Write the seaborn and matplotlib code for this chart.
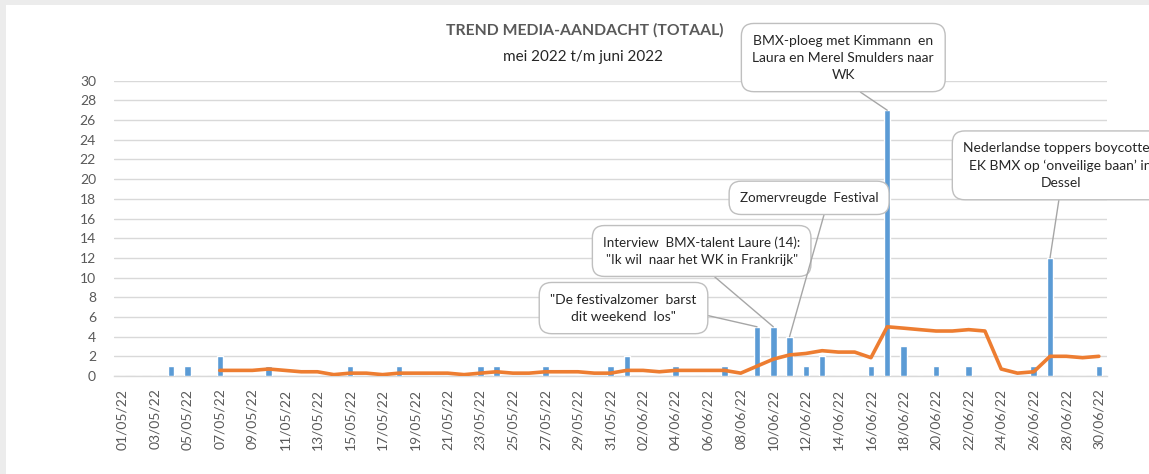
import numpy as np
import pandas as pd
import seaborn as sns
import matplotlib.pyplot as plt
from matplotlib.patches import Rectangle

# ------------------------------- data ----------------------------------#
dates = pd.date_range('2022-05-01', '2022-06-30').strftime('%d/%m/%y').tolist()

# daily number of media items (bars)
counts = [0, 0, 0, 1, 1, 0, 2, 0, 0, 1,
          0, 0, 0, 0, 1, 0, 0, 1, 0, 0,
          0, 0, 1, 1, 0, 0, 1, 0, 0, 0,
          1, 2, 0, 0, 1, 0, 0, 1, 0, 5,
          5, 4, 1, 2, 0, 0, 1, 27, 3, 0,
          1, 0, 1, 0, 0, 0, 1, 12, 0, 0,
          1]

# orange trend line (starts on 07/05)
trend = [np.nan, np.nan, np.nan, np.nan, np.nan, np.nan, 0.57, 0.57, 0.57, 0.71,
         0.57, 0.43, 0.43, 0.14, 0.29, 0.29, 0.14, 0.29, 0.29, 0.29,
         0.29, 0.14, 0.29, 0.43, 0.29, 0.29, 0.43, 0.43, 0.43, 0.29,
         0.29, 0.57, 0.57, 0.43, 0.57, 0.57, 0.57, 0.57, 0.29, 1.00,
         1.71, 2.14, 2.29, 2.57, 2.43, 2.43, 1.86, 5.00, 4.86, 4.71,
         4.57, 4.57, 4.71, 4.57, 0.71, 0.29, 0.43, 2.00, 2.00, 1.86,
         2.00]

# callouts: text, date of the bar they point to, box centre (x in days, y in values)
notes = ['"De festivalzomer  barst\ndit weekend  los"',
         'Interview  BMX-talent Laure (14):\n"Ik wil  naar het WK in Frankrijk"',
         'Zomervreugde  Festival',
         'BMX-ploeg met Kimmann  en\nLaura en Merel Smulders naar\nWK',
         'Nederlandse toppers boycotten\nEK BMX op \u2018onveilige baan\u2019 in\nDessel']
note_dates = ['09/06/22', '10/06/22', '11/06/22', '17/06/22', '27/06/22']
note_x = [30.8, 35.6, 42.2, 44.3, 57.65]
note_y = [6.9, 12.7, 18.1, 32.35, 21.4]
note_size = [10, 9.6, 9.6, 10, 10]
note_relpos = [(1, 0.33), (0.5, 0), (0.63, 0), (0.5, 0), (0.5, 0)]

df = pd.DataFrame({'Datum': dates, 'Aantal': counts, 'Trend': trend})
df['pos'] = range(len(df))

# ------------------------------- plot ----------------------------------#
sns.set_style('white')
plt.rcParams['font.family'] = ['Lato', 'DejaVu Sans']

fig = plt.figure(figsize=(11.49, 4.74), dpi=100)
fig.patch.set_facecolor('#ececec')
fig.patches.append(Rectangle((6 / 1149, 0), 1, 469 / 474, transform=fig.transFigure,
                             facecolor='white', edgecolor='none', zorder=-10))

ax = fig.add_axes([114 / 1149, 1 - 376 / 474, 993 / 1149, 295.3 / 474])
ax.set_facecolor('none')

sns.barplot(data=df, x='Datum', y='Aantal', color='#5B9BD5', width=0.4,
            saturation=1, ax=ax, zorder=3)
sns.lineplot(data=df, x='pos', y='Trend', color='#ED7D31', linewidth=2.6,
             ax=ax, zorder=4)

ax.set_xlim(-0.5, len(dates) - 0.5)
ax.set_ylim(0, 30)
ax.set_yticks(range(0, 31, 2))
ax.set_xticks(range(0, len(dates), 2))
ax.set_xticklabels(dates[::2], rotation=90, color='#595959', fontsize=10)
ax.set_xticks(np.arange(-0.5, len(dates), 2), minor=True)
ax.tick_params(axis='x', which='major', length=0, pad=9)
ax.tick_params(axis='x', which='minor', length=4, color='#d9d9d9', width=1)
ax.tick_params(axis='y', length=0, pad=13, labelcolor='#595959', labelsize=10)
ax.set_xlabel('')
ax.set_ylabel('')
ax.grid(axis='y', color='#d9d9d9', linewidth=1, zorder=0)
ax.set_axisbelow(True)
for side in ['left', 'right', 'top']:
    ax.spines[side].set_visible(False)
ax.spines['bottom'].set_color('#d9d9d9')
ax.spines['bottom'].set_linewidth(1)

# callouts with leader lines
for txt, d, tx, ty, fs, rp in zip(notes, note_dates, note_x, note_y, note_size, note_relpos):
    i = dates.index(d)
    ax.annotate(txt, xy=(i, counts[i]), xytext=(tx, ty), textcoords='data',
                ha='center', va='center', fontsize=fs, color='#262626',
                linespacing=1.5, annotation_clip=False, zorder=6,
                bbox=dict(boxstyle='round,pad=0.8,rounding_size=0.9',
                          fc='white', ec='#bfbfbf', lw=1),
                arrowprops=dict(arrowstyle='-', color='#a6a6a6', lw=1,
                                relpos=rp, shrinkA=0, shrinkB=0))

fig.text(585 / 1149, 1 - 30 / 474, 'TREND MEDIA-AANDACHT (TOTAAL)', ha='center',
         va='center', fontsize=11.3, fontweight='bold', color='#595959')
fig.text(583 / 1149, 1 - 57 / 474, 'mei 2022 t/m juni 2022', ha='center',
         va='center', fontsize=11, color='#262626')

fig.savefig('out.png', dpi=100, facecolor=fig.get_facecolor())
